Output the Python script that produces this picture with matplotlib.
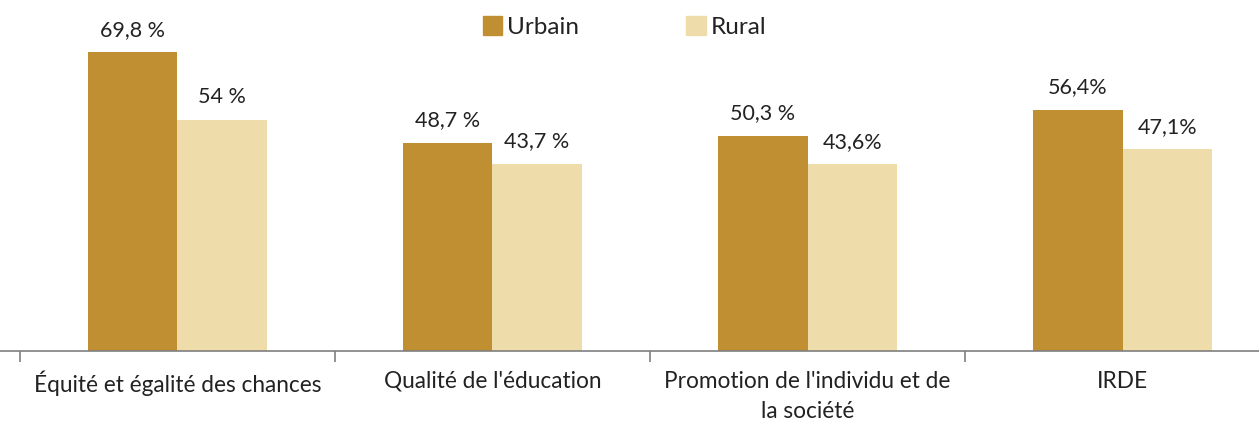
import numpy as np
import matplotlib.pyplot as plt
from matplotlib.patches import Patch

# ------------------------------------------------------------
# Data
# ------------------------------------------------------------
categories = ["Équité et égalité des chances", "Qualité de l'éducation",
              "Promotion de l'individu et de\nla société", "IRDE"]
urbain = [69.8, 48.7, 50.3, 56.4]
rural = [54.0, 43.7, 43.6, 47.1]
urbain_labels = ["69,8 %", "48,7 %", "50,3 %", "56,4%"]
rural_labels = ["54 %", "43,7 %", "43,6%", "47,1%"]
series_names = ["Urbain", "Rural"]

URB_COLOR = "#C08F32"
RUR_COLOR = "#EEDDAA"
TXT = "#222222"

plt.rcParams["font.family"] = ["Lato", "DejaVu Sans"]

fig = plt.figure(figsize=(12.59, 4.22), dpi=100)
ax = fig.add_axes([0, 0.168, 1, 0.832])

x = np.arange(len(categories))
w = 0.283

ax.bar(x - w / 2, urbain, width=w, color=URB_COLOR)
ax.bar(x + w / 2, rural, width=w, color=RUR_COLOR)

# value labels
for xi, v, t in zip(x, urbain, urbain_labels):
    ax.annotate(t, (xi - w / 2, v), xytext=(0, 9), textcoords="offset points",
                ha="center", va="bottom", fontsize=15.5, color=TXT)
for xi, v, t in zip(x, rural, rural_labels):
    ax.annotate(t, (xi + w / 2, v), xytext=(0, 9), textcoords="offset points",
                ha="center", va="bottom", fontsize=15.5, color=TXT)

# axes styling
for s in ["top", "right", "left"]:
    ax.spines[s].set_visible(False)
ax.spines["bottom"].set_color("#7f7f7f")
ax.spines["bottom"].set_linewidth(1.2)
ax.set_yticks([])

# group separators as major ticks, category names as minor tick labels
ax.set_xticks(np.arange(-0.5, len(categories) + 0.5, 1.0))
ax.set_xticklabels([])
ax.tick_params(axis="x", direction="out", length=8, width=1.2, color="#7f7f7f")
ax.set_xticks(x, minor=True)
ax.set_xticklabels(categories, minor=True, fontsize=16.3, color=TXT,
                   linespacing=1.55)
ax.tick_params(axis="x", which="minor", length=0, pad=14)

# set limits last so the ticks do not widen the view
ax.set_xlim(-0.563, 3.433)
ax.set_ylim(0, 82)

# legend
handles = [Patch(color=URB_COLOR), Patch(color=RUR_COLOR)]
fig.legend(handles, series_names, loc="center", bbox_to_anchor=(0.496, 0.936),
           ncol=2, frameon=False, fontsize=17.5, handlelength=0.8,
           handleheight=0.8, handletextpad=0.2, columnspacing=4.4,
           labelcolor=TXT)

fig.savefig("out.png", dpi=100)
plt.close(fig)
